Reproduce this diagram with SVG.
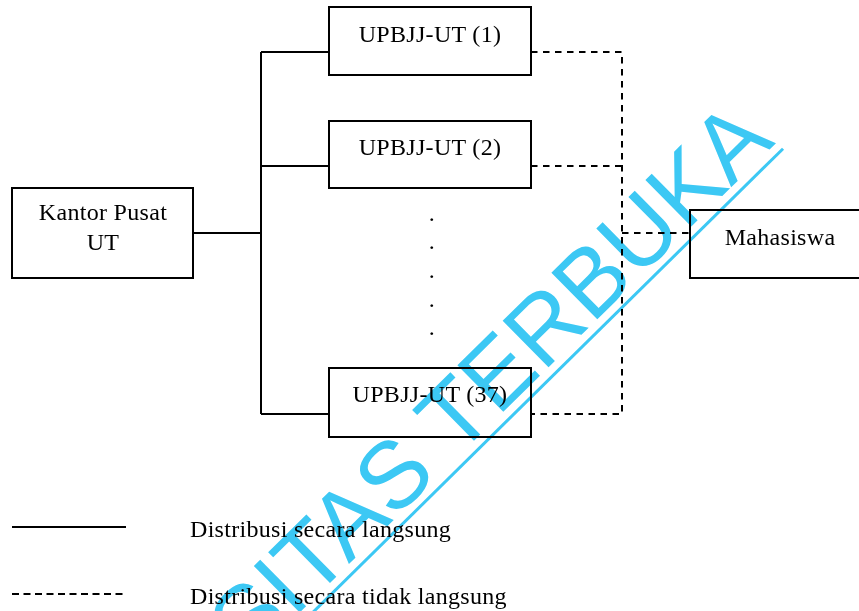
<svg xmlns="http://www.w3.org/2000/svg" width="859" height="611" viewBox="0 0 859 611">
<style>
.box{fill:#fff;stroke:#000;stroke-width:2}
.t{font-family:"Liberation Serif","Times New Roman",serif;font-size:24px;fill:#000;letter-spacing:0.3px}
.solid{fill:none;stroke:#000;stroke-width:2}
.dash{fill:none;stroke:#000;stroke-width:2;stroke-dasharray:6.5 5.5}
.wm{font-family:"Liberation Sans",Arial,sans-serif;font-size:95px;fill:#3CC8F4}
#watermark{mix-blend-mode:multiply}
</style>
<rect width="859" height="611" fill="#fff"/>
<g id="connectors">
<path class="solid" d="M193 233H261M261 52V414M261 52H329M261 166H329M261 414H329"/>
<path class="dash" d="M531 52H622V414H531M531 166H622M622 233H690"/>
</g>
<g id="kantor"><rect class="box" x="12" y="188" width="181" height="90"/><text class="t" x="103" y="220" text-anchor="middle">Kantor Pusat</text><text class="t" x="103" y="250" text-anchor="middle">UT</text></g>
<g id="upbjj1"><rect class="box" x="329" y="7" width="202" height="68"/><text class="t" x="430" y="42" text-anchor="middle">UPBJJ-UT (1)</text></g>
<g id="upbjj2"><rect class="box" x="329" y="121" width="202" height="67"/><text class="t" x="430" y="155" text-anchor="middle">UPBJJ-UT (2)</text></g>
<g id="dots"><text class="t" x="432" y="221" text-anchor="middle">.</text><text class="t" x="432" y="249" text-anchor="middle">.</text><text class="t" x="432" y="278" text-anchor="middle">.</text><text class="t" x="432" y="307" text-anchor="middle">.</text><text class="t" x="432" y="335" text-anchor="middle">.</text></g>
<g id="upbjj37"><rect class="box" x="329" y="368" width="202" height="69"/><text class="t" x="430" y="402" text-anchor="middle">UPBJJ-UT (37)</text></g>
<g id="mahasiswa"><rect class="box" x="690" y="210" width="200" height="68"/><text class="t" x="780" y="245" text-anchor="middle">Mahasiswa</text></g>
<g id="legend">
<line x1="12" y1="527" x2="126" y2="527" stroke="#000" stroke-width="2"/>
<line x1="12" y1="594" x2="125" y2="594" stroke="#000" stroke-width="2" stroke-dasharray="7 4.5"/>
<text class="t" x="190" y="537">Distribusi secara langsung</text>
<text class="t" x="190" y="604">Distribusi secara tidak langsung</text>
</g>
<g id="watermark" transform="translate(776,143) rotate(-44.6)">
<text class="wm" x="0" y="0" text-anchor="end">SITAS TERBUKA</text>
<line x1="-800" y1="9" x2="1" y2="9" stroke="#3CC8F4" stroke-width="3"/>
</g>
</svg>
